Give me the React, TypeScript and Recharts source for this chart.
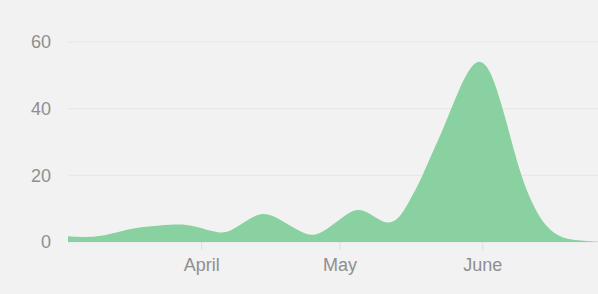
import { AreaChart, Area, XAxis, YAxis, CartesianGrid } from "recharts"

document.body.style.margin = "0"
document.body.style.background = "#f2f2f2"

// day offsets from early March, and the value read for each
const days = [
  0, 4, 7, 10.6, 15, 20, 24.3, 27, 31.5, 34.4, 38.8, 42.4, 46, 50.3, 53.2, 56, 59.7, 63, 67, 69.5,
  72, 74, 76.4, 78.5, 80.7, 82.9, 85, 87.2, 89.4, 91.6, 93.7, 95.9, 98, 100.2, 102.4, 104.6, 106.7, 108.9, 115,
]
const values = [
  1.7, 1.4, 1.7, 2.9, 4.4, 5.0, 5.4, 5.0, 3.1, 2.3, 6.6, 9.2, 6.8, 3.1, 1.6, 3.6, 7.6, 10.7, 7.1, 5.2,
  7.1, 12.1, 18.1, 25.1, 31.6, 39.1, 46.3, 52.4, 55.0, 51.8, 43.1, 32.1, 21.1, 13.1, 7.1, 3.6, 1.6, 0.6, 0.1,
]

const monthTicks = [29, 59, 90]
const monthLabels = ["April", "May", "June"]
const yTicks = [0, 20, 40, 60]

const data = days.map((day, i) => ({ day, value: values[i] }))

const tickFont = { fill: "#8f8f8f", fontSize: 18, fontFamily: "Liberation Sans, Arial, sans-serif" }

export default function App() {
  return (
    <div style={{ width: 598, height: 294, background: "#f2f2f2" }}>
      <AreaChart width={598} height={294} data={data} margin={{ top: 42, right: 0, left: 0, bottom: 22 }}>
        <CartesianGrid vertical={false} stroke="#e6e6e6" strokeWidth={1} />
        <XAxis
          dataKey="day"
          type="number"
          domain={[0, 115]}
          ticks={monthTicks}
          tickFormatter={(v) => monthLabels[monthTicks.indexOf(v)]}
          axisLine={false}
          tickLine={{ stroke: "#dddddd" }}
          tickSize={8}
          tickMargin={8}
          height={30}
          tick={tickFont}
        />
        <YAxis
          domain={[0, 60]}
          ticks={yTicks}
          axisLine={false}
          tickLine={false}
          tickSize={0}
          tickMargin={17}
          width={68}
          tick={tickFont}
        />
        <Area
          type="basis"
          dataKey="value"
          stroke="none"
          fill="#89d1a0"
          fillOpacity={1}
          isAnimationActive={false}
        />
      </AreaChart>
    </div>
  )
}
